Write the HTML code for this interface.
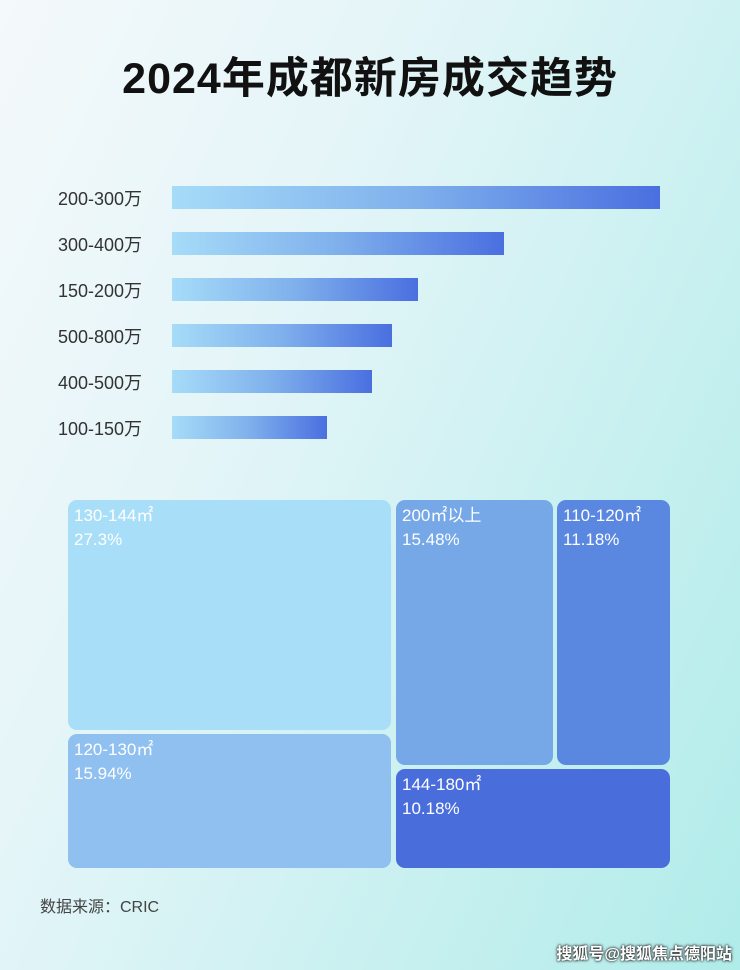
<!DOCTYPE html>
<html><head><meta charset="utf-8"><style>
*{margin:0;padding:0;box-sizing:border-box}
body{width:740px;height:970px;overflow:hidden;position:relative;font-family:"Liberation Sans","Noto Sans CJK SC",sans-serif;
background:linear-gradient(115deg,#f4f9fb 0%,#e4f5f8 35%,#c8f0f0 70%,#b0ecea 100%);}
.title{position:absolute;top:44px;left:0;width:740px;text-align:center;font-size:43px;font-weight:bold;color:#111;letter-spacing:1px}
.lab{position:absolute;left:58px;font-size:18px;color:#333;width:112px}
.bar{position:absolute;left:172px;height:23px;background:linear-gradient(90deg,#a6dcf8,#7fb0ec 50%,#4a6fe0);}
.t{position:absolute;border-radius:9px;color:#fff;font-size:17px;line-height:24px;padding:4px 0 0 6px}
.src{position:absolute;left:40px;top:893px;font-size:16px;color:#444}
.wm{position:absolute;right:8px;top:940px;font-size:16px;color:#fff;font-weight:bold;text-shadow:0 0 3px #333,0 0 2px #000}
</style></head><body>
<div class="title">2024年成都新房成交趋势</div>
<div class="lab" style="top:185px">200-300万</div><div class="bar" style="top:186px;width:488px"></div>
<div class="lab" style="top:231px">300-400万</div><div class="bar" style="top:232px;width:332px"></div>
<div class="lab" style="top:277px">150-200万</div><div class="bar" style="top:278px;width:246px"></div>
<div class="lab" style="top:323px">500-800万</div><div class="bar" style="top:324px;width:220px"></div>
<div class="lab" style="top:369px">400-500万</div><div class="bar" style="top:370px;width:200px"></div>
<div class="lab" style="top:415px">100-150万</div><div class="bar" style="top:416px;width:155px"></div>

<div class="t" style="left:68px;top:500px;width:323px;height:230px;background:#a8def8">130-144㎡<br>27.3%</div>
<div class="t" style="left:68px;top:734px;width:323px;height:134px;background:#8fc0f0">120-130㎡<br>15.94%</div>
<div class="t" style="left:396px;top:500px;width:157px;height:265px;background:#76a8e8">200㎡以上<br>15.48%</div>
<div class="t" style="left:557px;top:500px;width:113px;height:265px;background:#5a88e0">110-120㎡<br>11.18%</div>
<div class="t" style="left:396px;top:769px;width:274px;height:99px;background:#4a6ddc">144-180㎡<br>10.18%</div>

<div class="src">数据来源：CRIC</div>
<div class="wm">搜狐号@搜狐焦点德阳站</div>
</body></html>
